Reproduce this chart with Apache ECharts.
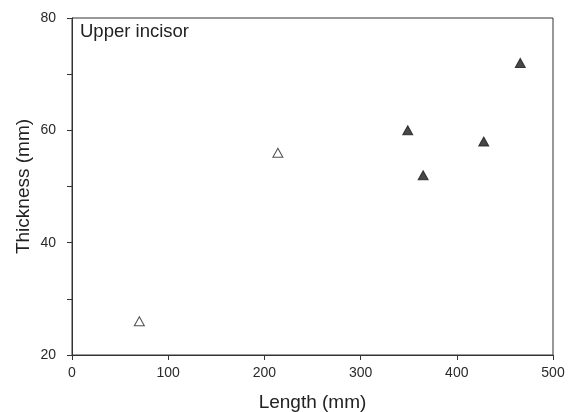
<!DOCTYPE html>
<html>
<head>
<meta charset="utf-8">
<script src="https://cdn.jsdelivr.net/npm/echarts@6/dist/echarts.min.js"></script>
<style>
html,body{margin:0;padding:0;background:#fff;}
#main{width:574px;height:412px;}
</style>
</head>
<body>
<div id="main"></div>
<script>
var openLength = [70, 214];
var openThickness = [26, 56];
var filledLength = [349, 365, 428, 466];
var filledThickness = [60, 52, 58, 72];
var xTicks = [0, 100, 200, 300, 400, 500];
var yTicks = [20, 40, 60, 80];
var panelLabel = 'Upper incisor';

function pairs(xs, ys) { return xs.map(function (x, i) { return [x, ys[i]]; }); }

var chart = echarts.init(document.getElementById('main'), null, {renderer: 'canvas'});
var font = 'Liberation Sans, Arial, sans-serif';
chart.setOption({
  animation: false,
  backgroundColor: '#fff',
  grid: {left: 72, right: 21, top: 18, bottom: 57, show: true, borderColor: '#333', borderWidth: 1,
    containLabel: false, outerBoundsMode: 'none'},
  graphic: [{type: 'text', left: 80, top: 22, style: {text: panelLabel, font: '18.5px ' + font, fill: '#222'}}],
  xAxis: {
    type: 'value', min: xTicks[0], max: xTicks[xTicks.length - 1], interval: 100,
    name: 'Length (mm)', nameLocation: 'middle', nameGap: 38, nameMoveOverlap: false,
    nameTextStyle: {fontSize: 19, fontFamily: font, color: '#222'},
    axisLine: {show: true, lineStyle: {color: '#333', width: 1}},
    axisTick: {show: true, inside: false, length: 5, lineStyle: {color: '#333'}},
    axisLabel: {fontSize: 14, fontFamily: font, color: '#2a2a2a', margin: 11},
    splitLine: {show: false}
  },
  yAxis: {
    type: 'value', min: yTicks[0], max: yTicks[yTicks.length - 1], interval: 10,
    name: 'Thickness (mm)', nameLocation: 'middle', nameGap: 39, nameMoveOverlap: false,
    nameTextStyle: {fontSize: 19, fontFamily: font, color: '#222'},
    axisLine: {show: true, lineStyle: {color: '#333', width: 1}},
    axisTick: {show: true, inside: false, length: 5, lineStyle: {color: '#333'}},
    axisLabel: {fontSize: 14, fontFamily: font, color: '#2a2a2a', margin: 16,
      formatter: function (v) { return yTicks.indexOf(v) >= 0 ? String(v) : ''; }},
    splitLine: {show: false}
  },
  series: [
    {type: 'scatter', data: pairs(openLength, openThickness), symbol: 'triangle', symbolSize: [10, 9],
      itemStyle: {color: '#fff', borderColor: '#222', borderWidth: 1}},
    {type: 'scatter', data: pairs(filledLength, filledThickness), symbol: 'triangle', symbolSize: [10, 9],
      itemStyle: {color: '#1a1a1a', borderColor: '#1a1a1a', borderWidth: 1}}
  ]
});
</script>
</body>
</html>
